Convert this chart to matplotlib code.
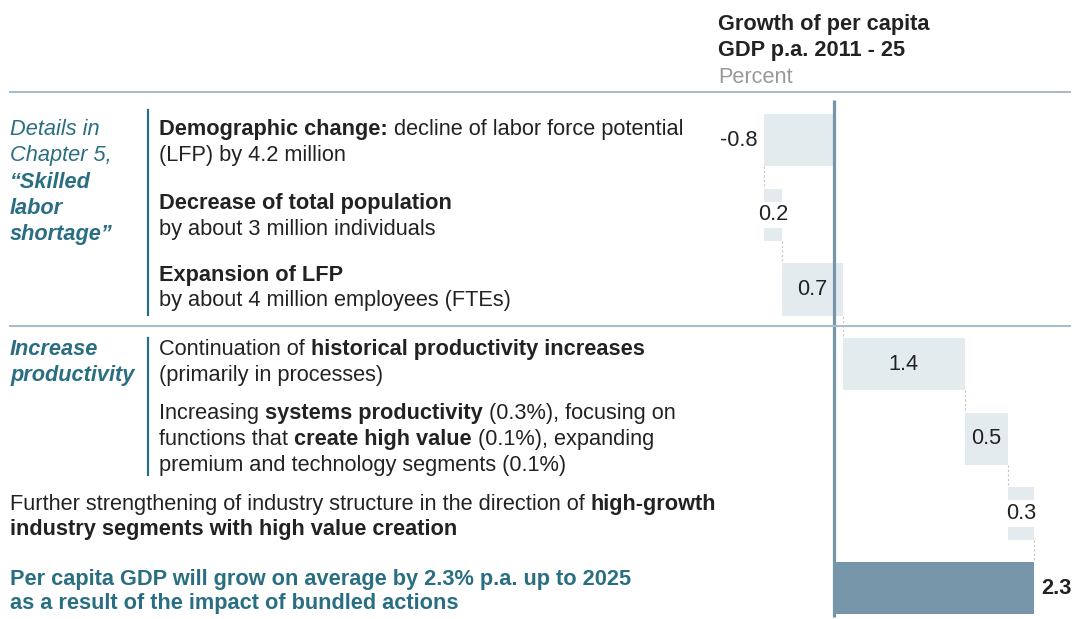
import matplotlib
matplotlib.use("Agg")
import matplotlib.pyplot as plt
from matplotlib.lines import Line2D
import numpy as np

plt.rcParams['font.family'] = ['Liberation Sans', 'DejaVu Sans']

# ---------------- data ----------------
steps = ["Demographic change", "Decrease of total population", "Expansion of LFP",
         "Historical productivity increases", "Systems productivity / high value",
         "Industry structure"]
values = [-0.8, 0.2, 0.7, 1.4, 0.5, 0.3]
total = 2.3
labels = ["-0.8", "0.2", "0.7", "1.4", "0.5", "0.3"]
total_label = "2.3"

# ---------------- figure ----------------
W, H = 1074, 619
DPI = 100
fig = plt.figure(figsize=(W / DPI, H / DPI), dpi=DPI)
fig.patch.set_facecolor("white")

ZERO_PX = 834.0
SCALE = 87.0          # px per percentage point
Y0_PX = 140.0         # centre of first bar
STEP_PX = 74.7

ax = fig.add_axes([0, 0, 1, 1])
ax.set_xlim(-ZERO_PX / SCALE, (W - ZERO_PX) / SCALE)
ax.set_ylim((H - Y0_PX) / STEP_PX, -Y0_PX / STEP_PX)
ax.axis("off")

LIGHT = "#e4ebef"
DARK = "#7896aa"
TEAL = "#2a6e82"
TXT = "#222222"
SEP = "#a9bccb"
FS = 15.7

cum = np.concatenate([[0.0], np.cumsum(values)])
ypos = np.arange(len(values))
bh = 0.70

ax.barh(ypos, values, left=cum[:-1], height=bh, color=LIGHT, zorder=2)
ax.barh([len(values)], [total], left=[0], height=bh, color=DARK, zorder=2)

# connectors
for i in range(len(values)):
    ax.vlines(cum[i + 1], i + bh / 2, i + 1 - bh / 2, colors="#c4c4c4",
              linestyles=(0, (2, 2)), linewidth=0.8, zorder=1)

# value labels
for i, (v, lab) in enumerate(zip(values, labels)):
    left, right = cum[i], cum[i + 1]
    if i == 0:
        ax.annotate(lab, (min(left, right), i), xytext=(-7, 0), textcoords="offset pixels",
                    ha="right", va="center", fontsize=FS, color=TXT, zorder=4)
    elif abs(v) < 0.35:
        ax.text((left + right) / 2, i, lab, ha="center", va="center", fontsize=FS,
                color=TXT, zorder=4,
                bbox=dict(boxstyle="square,pad=0.12", fc="white", ec="none"))
    else:
        ax.text((left + right) / 2, i, lab, ha="center", va="center", fontsize=FS,
                color=TXT, zorder=4)
ax.annotate(total_label, (total, len(values)), xytext=(7, 0), textcoords="offset pixels",
            ha="left", va="center", fontsize=FS, color=TXT, fontweight="bold", zorder=4)

# zero line
ax.vlines(0, (100 - Y0_PX) / STEP_PX, (617 - Y0_PX) / STEP_PX, colors=DARK,
          linewidth=2.3, zorder=5)

# ---------------- layout helpers ----------------
def fx(px):
    return px / W

def fy(py):
    return 1 - py / H

def hline(py, x0=10, x1=1070, color=SEP, lw=1.5):
    fig.add_artist(Line2D([fx(x0), fx(x1)], [fy(py), fy(py)], color=color, lw=lw,
                          transform=fig.transFigure, zorder=3))

def vline(px, y0, y1, color=TEAL, lw=1.6):
    fig.add_artist(Line2D([fx(px), fx(px)], [fy(y0), fy(y1)], color=color, lw=lw,
                          transform=fig.transFigure, zorder=3))

renderer = fig.canvas.get_renderer()

def space_width(weight, size, style="normal"):
    t1 = fig.text(0, 0, "a a", fontsize=size, fontweight=weight, fontstyle=style)
    t2 = fig.text(0, 0, "aa", fontsize=size, fontweight=weight, fontstyle=style)
    w = t1.get_window_extent(renderer).width - t2.get_window_extent(renderer).width
    t1.remove(); t2.remove()
    return w

def rich(x, ycenter, parts, color=TXT, size=FS, style="normal"):
    """parts: list of (text, bold); a leading space in a part adds a space."""
    base = ycenter + 8
    cx = x
    for text, bold in parts:
        weight = "bold" if bold else "normal"
        if text.startswith(" "):
            cx += space_width(weight, size, style)
            text = text[1:]
        t = fig.text(fx(cx), fy(base), text, fontsize=size, fontweight=weight,
                     fontstyle=style, color=color, ha="left", va="baseline")
        cx += t.get_window_extent(renderer).width

# ---------------- header ----------------
rich(718, 22, [("Growth of per capita", True)])
rich(718, 48, [("GDP p.a. 2011 - 25", True)])
rich(718, 75, [("Percent", False)], color="#999999")

hline(92)
hline(326)

# ---------------- left block 1 ----------------
rich(10, 127, [("Details in", False)], color=TEAL, style="italic")
rich(10, 153, [("Chapter 5,", False)], color=TEAL, style="italic")
rich(10, 180, [("\u201cSkilled", True)], color=TEAL, style="italic")
rich(10, 206, [("labor", True)], color=TEAL, style="italic")
rich(10, 232, [("shortage\u201d", True)], color=TEAL, style="italic")
vline(148, 110, 315)

rich(159, 127, [("Demographic change:", True), (" decline of labor force potential", False)])
rich(159, 153, [("(LFP) by 4.2 million", False)])
rich(159, 201, [("Decrease of total population", True)])
rich(159, 227, [("by about 3 million individuals", False)])
rich(159, 273, [("Expansion of LFP", True)])
rich(159, 298, [("by about 4 million employees (FTEs)", False)])

# ---------------- left block 2 ----------------
rich(10, 347, [("Increase", True)], color=TEAL, style="italic")
rich(10, 373, [("productivity", True)], color=TEAL, style="italic")
vline(148, 338, 475)

rich(159, 347, [("Continuation of", False), (" historical productivity increases", True)])
rich(159, 373, [("(primarily in processes)", False)])
rich(159, 411, [("Increasing", False), (" systems productivity", True),
                (" (0.3%), focusing on", False)])
rich(159, 437, [("functions that", False), (" create high value", True),
                (" (0.1%), expanding", False)])
rich(159, 463, [("premium and technology segments (0.1%)", False)])

rich(10, 502, [("Further strengthening of industry structure in the direction of", False),
               (" high-growth", True)])
rich(10, 527, [("industry segments with high value creation", True)])

rich(10, 577, [("Per capita GDP will grow on average by 2.3% p.a. up to 2025", True)], color=TEAL)
rich(10, 601, [("as a result of the impact of bundled actions", True)], color=TEAL)

fig.savefig("out.png", dpi=DPI, facecolor="white")
